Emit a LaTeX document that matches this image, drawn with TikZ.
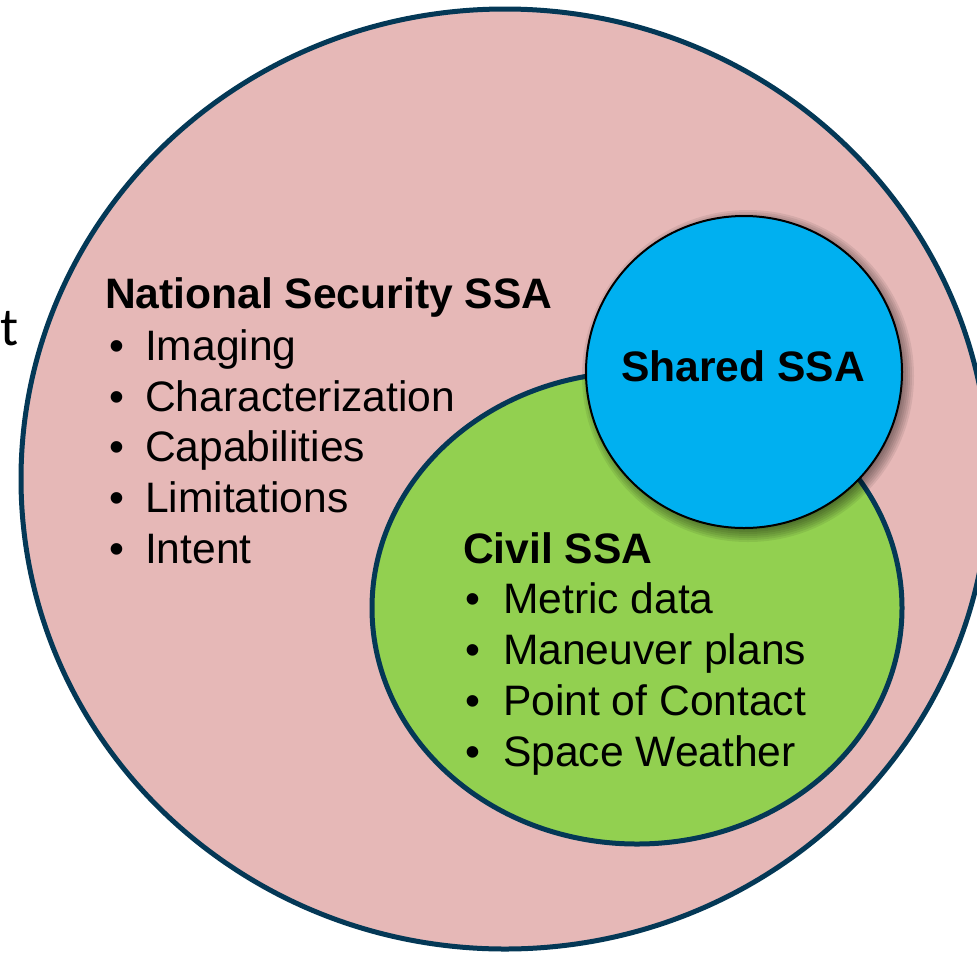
\documentclass[tikz,border=0pt]{standalone}
\usepackage{fontspec}
\setmainfont{Liberation Sans}
\newfontfamily\calfont{Carlito}
\definecolor{pinkfill}{RGB}{230,184,183}
\definecolor{greenfill}{RGB}{146,208,80}
\definecolor{bluefill}{RGB}{0,176,240}
\definecolor{navy}{RGB}{4,56,86}
\begin{document}
\begin{tikzpicture}[x=1pt,y=-1pt,
  txt/.style={anchor=base west, inner sep=0pt, outer sep=0pt, font=\fontsize{42.6}{50}\selectfont},
  headtxt/.style={anchor=base west, inner sep=0pt, outer sep=0pt, font=\fontsize{42.6}{50}\selectfont\bfseries},
  bul/.style={anchor=base west, inner sep=0pt, outer sep=0pt, font=\fontsize{42.6}{50}\selectfont},
  ring/.style={draw=navy, line width=5pt}]
\useasboundingbox (0,0) rectangle (977,954);
\clip (0,0) rectangle (977,954);
\fill[white] (0,0) rectangle (977,954);
% outer circle
\draw[ring, fill=pinkfill] (505,479) ellipse [x radius=484, y radius=470];
% green
\draw[ring, fill=greenfill] (637,608) ellipse [x radius=265, y radius=236];
% blue shadow
\foreach \r in {150,152,...,166} {
  \fill[black, opacity=0.075] (748,376) ellipse [x radius=\r, y radius=\r];
}
% blue
\draw[black, line width=2pt, fill=bluefill] (744,372) ellipse [x radius=158, y radius=156];
% stray letter
\node[anchor=base east, inner sep=0pt, font=\calfont\fontsize{54}{60}\selectfont] (tfrag) at (19,345) {t};
% national security
\node[headtxt] (nshead) at (105,308) {National Security SSA};
\node[bul] (nsb1) at (109,360) {•};
\node[txt] (ns1) at (145,360) {Imaging};
\node[bul] (nsb2) at (109,411) {•};
\node[txt] (ns2) at (145,411) {Characterization};
\node[bul] (nsb3) at (109,461) {•};
\node[txt] (ns3) at (145,461) {Capabilities};
\node[bul] (nsb4) at (109,512) {•};
\node[txt] (ns4) at (145,512) {Limitations};
\node[bul] (nsb5) at (109,563) {•};
\node[txt] (ns5) at (145,563) {Intent};
% shared
\node[anchor=base, inner sep=0pt, font=\fontsize{42.6}{50}\selectfont\bfseries] (shared) at (743,381) {Shared SSA};
% civil
\node[headtxt] (cvhead) at (463,563) {Civil SSA};
\node[bul] (cvb1) at (465,613) {•};
\node[txt] (cv1) at (503,613) {Metric data};
\node[bul] (cvb2) at (465,664) {•};
\node[txt] (cv2) at (503,664) {Maneuver plans};
\node[bul] (cvb3) at (465,715) {•};
\node[txt] (cv3) at (503,715) {Point of Contact};
\node[bul] (cvb4) at (465,766) {•};
\node[txt] (cv4) at (503,766) {Space Weather};
\end{tikzpicture}
\end{document}
